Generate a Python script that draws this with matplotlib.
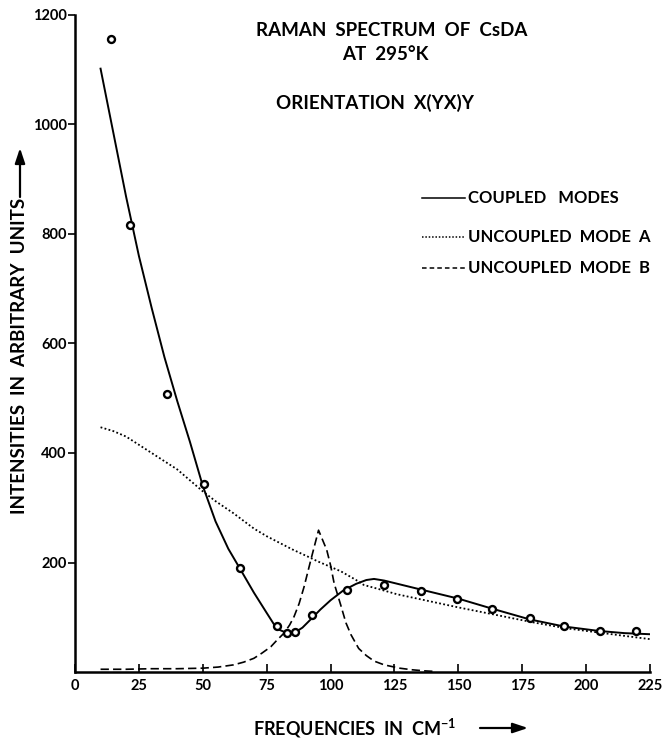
import matplotlib
matplotlib.use("Agg")
import matplotlib.pyplot as plt
from matplotlib.patches import FancyArrowPatch

plt.rcParams['font.family'] = ['Lato', 'DejaVu Sans']
plt.rcParams['font.weight'] = 'bold'
plt.rcParams['mathtext.default'] = 'regular'

# measured intensities (open circles)
obs_freq = [14.1, 21.6, 36.0, 50.4, 64.4, 78.9, 82.8, 86.1, 92.9,
            106.4, 120.8, 135.2, 149.6, 163.2, 178.0, 191.5, 205.5, 219.5]
obs_int = [1156, 816, 508, 344, 190, 84, 72, 73, 105,
           150, 158, 148, 134, 115, 98, 84, 74, 74]

# coupled modes fit
coupled_freq = [10, 15, 20, 25, 30, 35, 40, 45, 50, 55, 60, 64.4, 70, 75,
                78, 80, 83, 86, 89, 92, 96, 100, 105, 110, 114, 117, 121,
                128, 135, 150, 163, 178, 191.5, 205, 215, 225]
coupled_int = [1102, 985, 868, 760, 665, 575, 495, 420, 340, 275, 225, 190,
               145, 108, 86, 77, 71, 72, 81, 95, 114, 131, 149, 161, 168,
               170, 167, 159, 151, 134, 116, 96, 83, 75, 71, 69]

# uncoupled mode A
mode_a_freq = [10, 15, 20, 25, 30, 36, 40, 45, 50, 55, 62, 70, 75, 80, 85,
               91, 95, 100, 104, 110, 113, 120, 126, 139, 150, 165, 180,
               192, 205, 215, 225]
mode_a_int = [447, 440, 430, 415, 400, 382, 370, 350, 330, 312, 290, 262,
              248, 236, 224, 211, 202, 192, 184, 168, 159, 150, 142, 129,
              118, 104, 90, 80, 72, 66, 60]

# uncoupled mode B
mode_b_freq = [10, 20, 30, 40, 50, 56, 62, 66, 70, 73, 76.6, 79, 81.8, 84,
               85.7, 87.7, 89.6, 92.3, 95.3, 98.5, 100, 101.4, 104, 106, 108,
               111, 114, 117, 121, 127, 132, 137, 141]
mode_b_int = [5, 5, 6, 6, 7, 9, 13, 18, 25, 34, 46, 58, 71, 86,
              101, 125, 155, 205, 259, 223, 195, 162, 122, 90, 68,
              43, 30, 20, 13, 7, 4, 2, 1]

W, H = 662, 740
fig = plt.figure(figsize=(W / 100, H / 100), dpi=100)
ax = fig.add_axes([75 / W, 68 / H, 575 / W, 657 / H])

ax.plot(coupled_freq, coupled_int, color='black', linewidth=1.4)
ax.plot(mode_a_freq, mode_a_int, color='black', linewidth=1.3, linestyle=(0, (1, 1.3)))
ax.plot(mode_b_freq, mode_b_int, color='black', linewidth=1.2, linestyle=(0, (5, 2.5)))
ax.plot(obs_freq, obs_int, linestyle='none', marker='o', markersize=5,
        markerfacecolor='white', markeredgecolor='black', markeredgewidth=1.7)

ax.set_xlim(0, 225)
ax.set_ylim(0, 1200)
ax.set_xticks([0, 25, 50, 75, 100, 125, 150, 175, 200, 225])
ax.set_yticks([200, 400, 600, 800, 1000, 1200])
ax.spines['top'].set_visible(False)
ax.spines['right'].set_visible(False)
ax.spines['left'].set_linewidth(1.8)
ax.spines['bottom'].set_linewidth(1.8)
ax.tick_params(axis='x', direction='in', length=6, width=1.2, labelsize=10.5, pad=5)
ax.tick_params(axis='y', direction='out', length=5, width=1.2, labelsize=10.5, pad=1)

# headings
fig.text(392 / W, 1 - 30 / H, 'RAMAN  SPECTRUM  OF  CsDA', ha='center', va='center', fontsize=13.5)
fig.text(385 / W, 1 - 55 / H, 'AT  295°K', ha='center', va='center', fontsize=13.5)
fig.text(375 / W, 1 - 103 / H, 'ORIENTATION  X(YX)Y', ha='center', va='center', fontsize=13.5)

# key
key_rows = [(198, '-', 'COUPLED   MODES'),
            (237, (0, (1, 1.2)), 'UNCOUPLED  MODE  A'),
            (268, (0, (3, 2)), 'UNCOUPLED  MODE  B')]
for y, ls, label in key_rows:
    fy = 1 - y / H
    fig.add_artist(plt.Line2D([422 / W, 465 / W], [fy, fy], color='black',
                              linewidth=1.1, linestyle=ls))
    fig.text(468 / W, fy, label, ha='left', va='center', fontsize=12)

# axis titles with arrows
fig.text(253 / W, 1 - 728 / H, 'FREQUENCIES  IN  CM$^{-1}$', ha='left', va='center', fontsize=13)
fig.add_artist(FancyArrowPatch(
    (480 / W, 1 - 728 / H), (528 / W, 1 - 728 / H), transform=fig.transFigure,
    arrowstyle='-|>,head_length=9,head_width=3', linewidth=1.6, color='black',
    shrinkA=0, shrinkB=0))

fig.text(20 / W, 1 - 514 / H, 'INTENSITIES  IN  ARBITRARY  UNITS', ha='center', va='bottom',
         rotation=90, fontsize=13.5)
fig.add_artist(FancyArrowPatch(
    (20 / W, 1 - 197 / H), (20 / W, 1 - 148 / H), transform=fig.transFigure,
    arrowstyle='-|>,head_length=9,head_width=3', linewidth=1.6, color='black',
    shrinkA=0, shrinkB=0))

fig.savefig('out.png', dpi=100)
